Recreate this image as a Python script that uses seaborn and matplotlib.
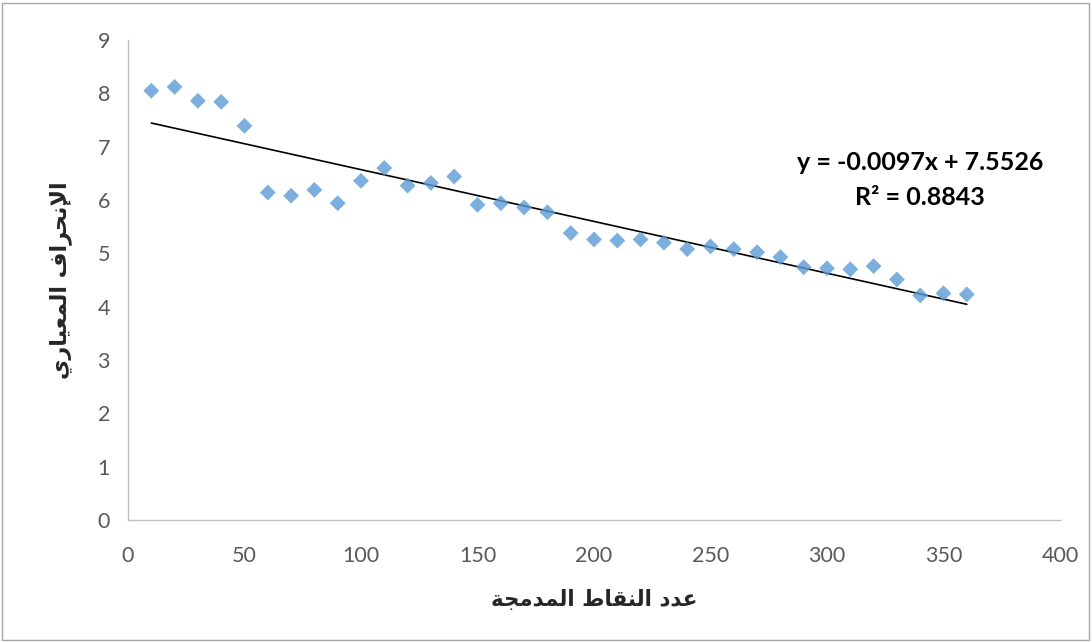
import numpy as np
import pandas as pd
import matplotlib
matplotlib.use("Agg")
import matplotlib.pyplot as plt
import seaborn as sns
from matplotlib.patches import Rectangle

# ---- data ----
x_points = [10, 20, 30, 40, 50, 60, 70, 80, 90, 100, 110, 120, 130, 140, 150, 160, 170, 180,
            190, 200, 210, 220, 230, 240, 250, 260, 270, 280, 290, 300, 310, 320, 330, 340, 350, 360]
y_std = [8.05, 8.12, 7.86, 7.84, 7.39, 6.14, 6.08, 6.19, 5.94, 6.36, 6.60, 6.27, 6.32, 6.44, 5.91, 5.94,
         5.86, 5.77, 5.38, 5.26, 5.24, 5.26, 5.20, 5.08, 5.13, 5.08, 5.02, 4.93, 4.74, 4.72, 4.70, 4.76,
         4.51, 4.21, 4.25, 4.23]
x_ticks = [0, 50, 100, 150, 200, 250, 300, 350, 400]
y_ticks = [0, 1, 2, 3, 4, 5, 6, 7, 8, 9]
x_label = "عدد النقاط المدمجة"
y_label = "الإنحراف المعياري"
eq_text = "y = -0.0097x + 7.5526"
r2_text = "R² = 0.8843"

# ---- minimal Arabic shaping (presentation forms) ----
FORMS = {  # isolated, final, initial, medial
    'ا': ('\uFE8D', '\uFE8E', None, None),
    'إ': ('\uFE87', '\uFE88', None, None),
    'ة': ('\uFE93', '\uFE94', None, None),
    'د': ('\uFEA9', '\uFEAA', None, None),
    'ر': ('\uFEAD', '\uFEAE', None, None),
    'ج': ('\uFE9D', '\uFE9E', '\uFE9F', '\uFEA0'),
    'ح': ('\uFEA1', '\uFEA2', '\uFEA3', '\uFEA4'),
    'ط': ('\uFEC1', '\uFEC2', '\uFEC3', '\uFEC4'),
    'ع': ('\uFEC9', '\uFECA', '\uFECB', '\uFECC'),
    'ف': ('\uFED1', '\uFED2', '\uFED3', '\uFED4'),
    'ق': ('\uFED5', '\uFED6', '\uFED7', '\uFED8'),
    'ل': ('\uFEDD', '\uFEDE', '\uFEDF', '\uFEE0'),
    'م': ('\uFEE1', '\uFEE2', '\uFEE3', '\uFEE4'),
    'ن': ('\uFEE5', '\uFEE6', '\uFEE7', '\uFEE8'),
    'ي': ('\uFEF1', '\uFEF2', '\uFEF3', '\uFEF4'),
}
LAMALEF = {'ا': ('\uFEFB', '\uFEFC'), 'إ': ('\uFEF9', '\uFEFA')}


def dual(c):
    return c in FORMS and FORMS[c][2] is not None


def shape(text):
    out = []
    i = 0
    n = len(text)
    while i < n:
        c = text[i]
        if c not in FORMS:
            out.append(c)
            i += 1
            continue
        prev = text[i - 1] if i > 0 else ''
        join_prev = dual(prev)
        if c == 'ل' and i + 1 < n and text[i + 1] in LAMALEF:
            iso, fin = LAMALEF[text[i + 1]]
            out.append(fin if join_prev else iso)
            i += 2
            continue
        nxt = text[i + 1] if i + 1 < n else ''
        join_next = dual(c) and nxt in FORMS
        iso, fin, ini, med = FORMS[c]
        if join_prev and join_next:
            out.append(med)
        elif join_prev:
            out.append(fin)
        elif join_next:
            out.append(ini)
        else:
            out.append(iso)
        i += 1
    return ''.join(out)[::-1]


# ---- plot ----
sns.set_style("white")
plt.rcParams['font.family'] = ['Lato', 'DejaVu Sans']

df = pd.DataFrame({"x": x_points, "y": y_std})

fig = plt.figure(figsize=(10.92, 6.42), dpi=100)
ax = fig.add_axes([128 / 1092, 1 - 520 / 642, (1060 - 128) / 1092, (520 - 40) / 642])

sns.regplot(data=df, x="x", y="y", ax=ax, ci=None, truncate=True,
            marker="D",
            scatter_kws=dict(s=65, color="#5B9BD5", edgecolors="none", zorder=3),
            line_kws=dict(color="black", lw=1.2, zorder=2))

ax.set_xlim(0, 400)
ax.set_ylim(0, 9)
ax.set_xticks(x_ticks)
ax.set_yticks(y_ticks)
ax.tick_params(axis="both", labelsize=15.5, labelcolor="#595959", color="#BFBFBF",
               length=5, width=1, direction="out", pad=8)
ax.tick_params(axis="x", pad=14)
for s in ["top", "right"]:
    ax.spines[s].set_visible(False)
for s in ["left", "bottom"]:
    ax.spines[s].set_color("#BFBFBF")
    ax.spines[s].set_linewidth(1)

ax.set_xlabel(shape(x_label), fontsize=15.5, fontweight="bold", family="DejaVu Sans", labelpad=16)
ax.set_ylabel(shape(y_label), fontsize=16, fontweight="bold", family="DejaVu Sans", labelpad=18)

ax.text(340, 6.70, eq_text, ha="center", va="center", fontsize=18, fontweight="bold", color="black")
ax.text(340, 6.04, r2_text, ha="center", va="center", fontsize=18, fontweight="bold", color="black")

fig.patches.append(Rectangle((0.002, 0.003), 0.995, 0.993, transform=fig.transFigure,
                             fill=False, edgecolor="#A6A6A6", lw=1))

fig.savefig("out.png", dpi=100)
